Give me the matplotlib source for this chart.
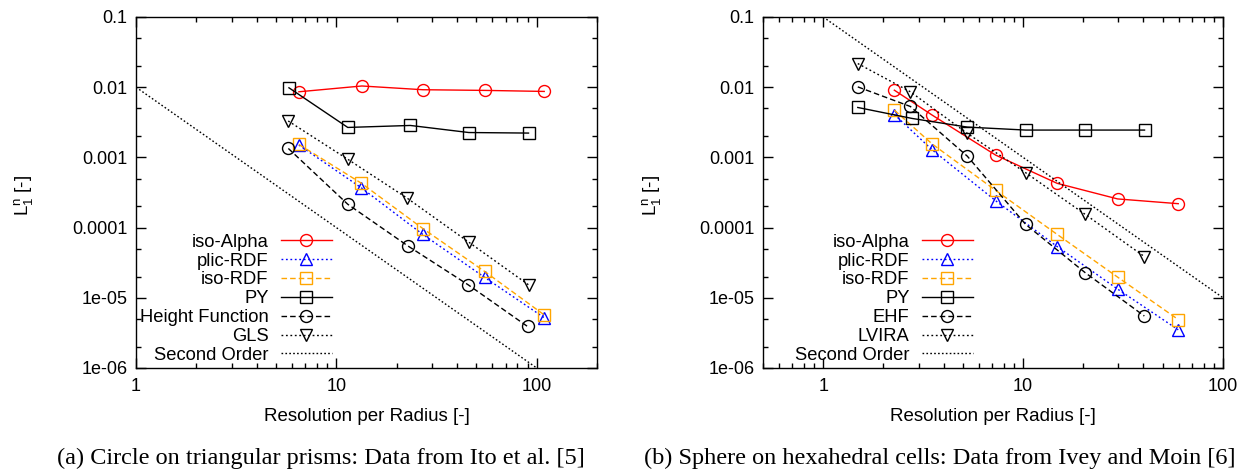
import matplotlib
matplotlib.use("Agg")
import matplotlib.pyplot as plt
from matplotlib.ticker import LogLocator, FixedLocator, FixedFormatter, NullFormatter

plt.rcParams['font.family'] = ['Liberation Sans', 'DejaVu Sans']
plt.rcParams['mathtext.default'] = 'regular'
plt.rcParams['lines.scale_dashes'] = False

# (a) circle on triangular prisms, data from Ito et al.
x_alpha_a = [6.5, 13.4, 27.0, 55.0, 109]
y_alpha_a = [0.0086, 0.0104, 0.0092, 0.0090, 0.0087]
x_rdf_a = [6.5, 13.3, 27.0, 55.0, 109]
y_plic_a = [1.5e-3, 3.7e-4, 8.0e-5, 1.95e-5, 5.2e-6]
y_isordf_a = [1.53e-3, 4.3e-4, 9.7e-5, 2.37e-5, 5.7e-6]
x_py_a = [5.8, 11.4, 23.4, 45.8, 91]
y_py_a = [0.0098, 0.00267, 0.00285, 0.00226, 0.00222]
x_hf_a = [5.76, 11.4, 22.7, 45.5, 90]
y_hf_a = [1.34e-3, 2.15e-4, 5.5e-5, 1.53e-5, 3.9e-6]
x_gls_a = [5.75, 11.4, 22.5, 45.8, 91]
y_gls_a = [3.3e-3, 9.4e-4, 2.64e-4, 6.2e-5, 1.53e-5]
x_order_a = [1, 100]
y_order_a = [1e-2, 1e-6]

# (b) sphere on hexahedral cells, data from Ivey and Moin
x_rdf_b = [2.27, 3.51, 7.28, 14.8, 29.7, 59.7]
y_alpha_b = [0.00906, 0.0040, 0.00108, 4.27e-4, 2.56e-4, 2.19e-4]
y_plic_b = [4.08e-3, 1.28e-3, 2.42e-4, 5.37e-5, 1.33e-5, 3.5e-6]
y_isordf_b = [4.71e-3, 1.55e-3, 3.4e-4, 8.0e-5, 1.97e-5, 4.9e-6]
x_py_b = [1.49, 2.78, 5.26, 10.3, 20.4, 40.5]
y_py_b = [0.00514, 0.00359, 0.0027, 0.00245, 0.00245, 0.00245]
x_ref_b = [1.49, 2.73, 5.26, 10.3, 20.4, 40.4]
y_ehf_b = [0.0101, 0.00531, 1.04e-3, 1.11e-4, 2.29e-5, 5.5e-6]
y_lvira_b = [0.0217, 8.6e-3, 2.2e-3, 6.05e-4, 1.55e-4, 3.87e-5]
x_order_b = [1, 100]
y_order_b = [1e-1, 1e-5]

yticks = [1e-6, 1e-5, 1e-4, 1e-3, 1e-2, 1e-1]
ytick_labels = ['1e-06', '1e-05', '0.0001', '0.001', '0.01', '0.1']
xticks = [1, 10, 100]
xtick_labels = ['1', '10', '100']

ms = 8.6
mew = 1.0
lw = 1.0


def panel(ax, series, xlim, legend_x):
    for x, y, label, color, ls, marker in series:
        ax.plot(x, y, color=color, linestyle=ls, lw=lw, marker=marker,
                ms=ms, mew=mew, mfc='none', label=label)
    ax.set_xscale('log')
    ax.set_yscale('log')
    ax.set_xlim(*xlim)
    ax.set_ylim(1e-6, 0.1)
    ax.xaxis.set_major_locator(FixedLocator(xticks))
    ax.xaxis.set_major_formatter(FixedFormatter(xtick_labels))
    ax.xaxis.set_minor_locator(LogLocator(base=10, subs=range(2, 10), numticks=20))
    ax.xaxis.set_minor_formatter(NullFormatter())
    ax.yaxis.set_major_locator(FixedLocator(yticks))
    ax.yaxis.set_major_formatter(FixedFormatter(ytick_labels))
    ax.yaxis.set_minor_locator(LogLocator(base=10, subs=[2, 5], numticks=20))
    ax.yaxis.set_minor_formatter(NullFormatter())
    ax.tick_params(which='both', direction='in', top=True, right=True,
                   labelsize=13, width=1.0)
    ax.tick_params(which='major', length=7)
    ax.tick_params(which='minor', length=3.5)
    ax.tick_params(axis='x', pad=7)
    ax.tick_params(axis='y', pad=6)
    for s in ax.spines.values():
        s.set_linewidth(1.0)
    ax.set_xlabel('Resolution per Radius [-]', fontsize=13.5)
    ax.xaxis.set_label_coords(0.5, -0.115)
    ax.set_ylabel('$L_1^n$ [-]', fontsize=13.5)
    ax.yaxis.set_label_coords(-0.218, 0.49)
    ax.legend(loc='lower right', bbox_to_anchor=(legend_x, 0.012),
              frameon=False, markerfirst=False, fontsize=13.2,
              handlelength=2.8, handletextpad=0.65, labelspacing=0.1,
              borderpad=0, borderaxespad=0)


fig = plt.figure(figsize=(12.58, 4.73), dpi=100)
ax1 = fig.add_axes([0.1081, 0.222, 0.3665, 0.7421])
ax2 = fig.add_axes([0.6065, 0.222, 0.3657, 0.7421])

dash = (0, (4, 2.2))
dot = (0, (1.3, 1.9))
fine_dot = (0, (1.2, 1.6))

series_a = [
    (x_alpha_a, y_alpha_a, 'iso-Alpha', '#ff0000', '-', 'o'),
    (x_rdf_a, y_plic_a, 'plic-RDF', '#0000ff', dot, '^'),
    (x_rdf_a, y_isordf_a, 'iso-RDF', '#ffa500', dash, 's'),
    (x_py_a, y_py_a, 'PY', 'black', '-', 's'),
    (x_hf_a, y_hf_a, 'Height Function', 'black', dash, 'o'),
    (x_gls_a, y_gls_a, 'GLS', 'black', dot, 'v'),
    (x_order_a, y_order_a, 'Second Order', 'black', fine_dot, None),
]
series_b = [
    (x_rdf_b, y_alpha_b, 'iso-Alpha', '#ff0000', '-', 'o'),
    (x_rdf_b, y_plic_b, 'plic-RDF', '#0000ff', dot, '^'),
    (x_rdf_b, y_isordf_b, 'iso-RDF', '#ffa500', dash, 's'),
    (x_py_b, y_py_b, 'PY', 'black', '-', 's'),
    (x_ref_b, y_ehf_b, 'EHF', 'black', dash, 'o'),
    (x_ref_b, y_lvira_b, 'LVIRA', 'black', dot, 'v'),
    (x_order_b, y_order_b, 'Second Order', 'black', fine_dot, None),
]

panel(ax1, series_a, (1, 200), 0.425)
panel(ax2, series_b, (0.5, 100), 0.4565)

fig.text(321 / 1258, 0.03, '(a) Circle on triangular prisms: Data from Ito et al. [5]',
         ha='center', va='center', fontsize=17.5, family='Liberation Serif')
fig.text(940 / 1258, 0.03, '(b) Sphere on hexahedral cells: Data from Ivey and Moin [6]',
         ha='center', va='center', fontsize=17.5, family='Liberation Serif')

fig.savefig('out.png', dpi=100)
